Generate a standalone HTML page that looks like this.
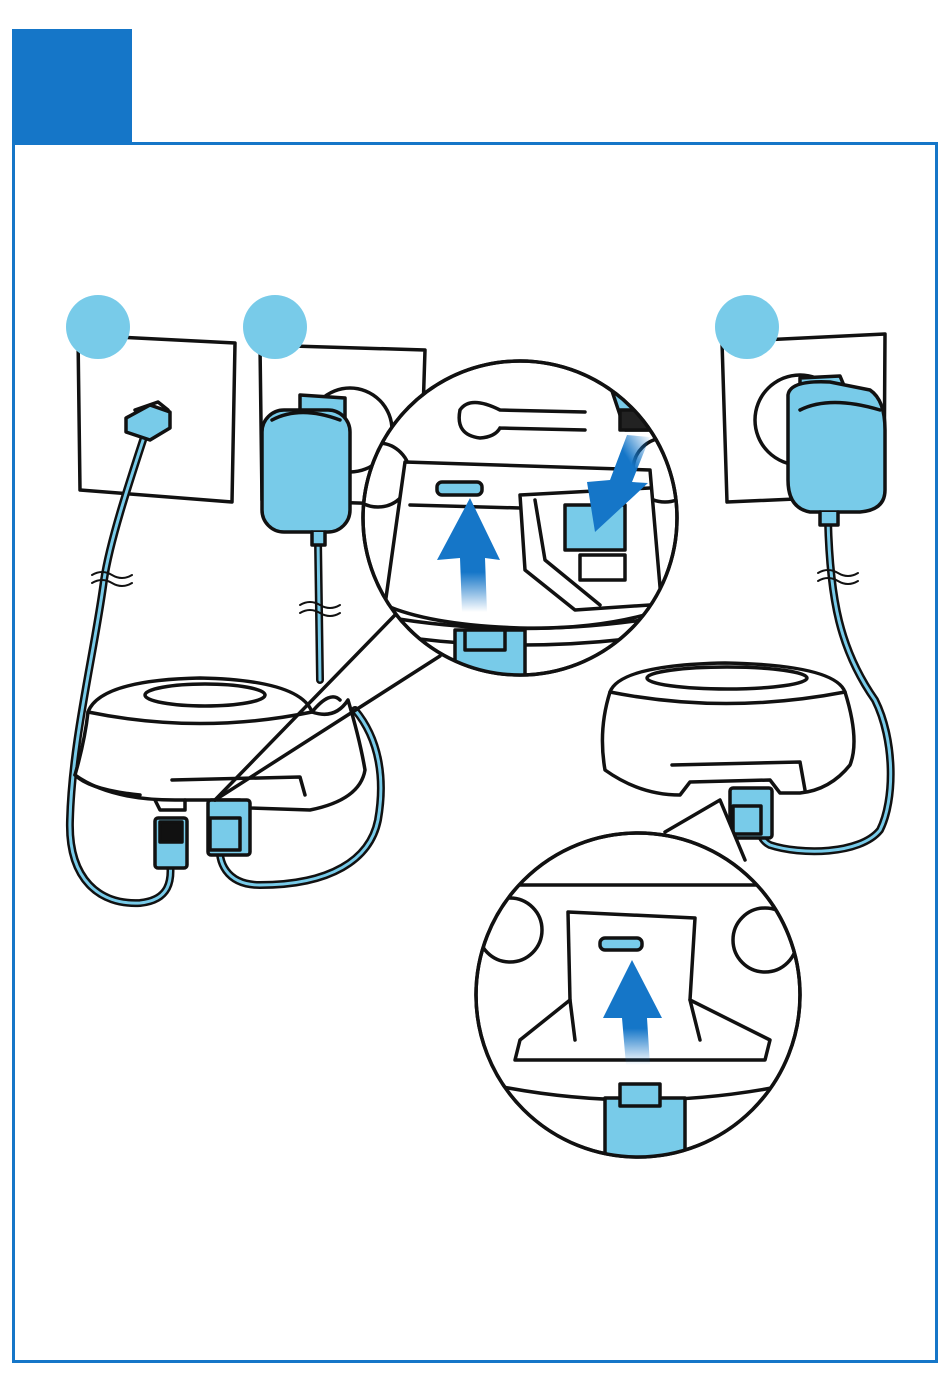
<!DOCTYPE html>
<html><head><meta charset="utf-8"><style>
html,body{margin:0;padding:0;background:#fff;}
svg{display:block}
</style></head><body>
<svg width="950" height="1392" viewBox="0 0 950 1392" xmlns="http://www.w3.org/2000/svg">
<defs>
<linearGradient id="fadeUp" x1="0" y1="1" x2="0" y2="0">
<stop offset="0" stop-color="#1576c8" stop-opacity="0"/><stop offset="0.35" stop-color="#1576c8"/><stop offset="1" stop-color="#1576c8"/></linearGradient>
<linearGradient id="fadeDown" x1="1" y1="0" x2="0" y2="1">
<stop offset="0" stop-color="#1576c8" stop-opacity="0"/><stop offset="0.3" stop-color="#1576c8"/><stop offset="1" stop-color="#1576c8"/></linearGradient>
<clipPath id="c1"><circle cx="520" cy="518" r="157"/></clipPath>
<clipPath id="c2"><circle cx="638" cy="995" r="162"/></clipPath>
</defs>
<rect width="950" height="1392" fill="#fff"/>
<rect x="12" y="29" width="120" height="115" fill="#1576c8"/>
<rect x="13.5" y="143.5" width="923" height="1218" fill="none" stroke="#1576c8" stroke-width="3"/>

<g stroke="#111" stroke-width="3.5" stroke-linejoin="round" stroke-linecap="round" fill="none">
<polygon points="78,335 235,343 232,502 80,490" fill="#fff"/>
<polygon points="260,345 425,350 420,505 262,500" fill="#fff"/>
<polygon points="722,342 885,334 884,495 727,502" fill="#fff"/>
<circle cx="350" cy="430" r="42" fill="#fff"/>
<circle cx="800" cy="420" r="45" fill="#fff"/>

<g stroke-width="8">
<path d="M148,425 C130,480 110,540 104,580 C95,650 72,740 70,820 C68,880 100,905 140,903 C170,900 172,880 170,862"/>
<path d="M318,540 L320,680"/>
<path d="M355,710 C380,740 385,780 378,820 C370,860 330,885 260,885 C225,885 218,860 220,845"/>
<path d="M828,520 C830,600 840,650 875,700 C895,740 895,800 880,830 C860,855 800,855 770,845 C760,840 758,830 760,820"/>
</g>
<g stroke="#78cbe9" stroke-width="3">
<path d="M148,425 C130,480 110,540 104,580 C95,650 72,740 70,820 C68,880 100,905 140,903 C170,900 172,880 170,862"/>
<path d="M318,540 L320,680"/>
<path d="M355,710 C380,740 385,780 378,820 C370,860 330,885 260,885 C225,885 218,860 220,845"/>
<path d="M828,520 C830,600 840,650 875,700 C895,740 895,800 880,830 C860,855 800,855 770,845 C760,840 758,830 760,820"/>
</g>
<g stroke-width="2"><path d="M92,575 q10,-6 20,0 q10,6 20,0"/><path d="M92,583 q10,-6 20,0 q10,6 20,0"/>
<path d="M300,605 q10,-6 20,0 q10,6 20,0"/><path d="M300,613 q10,-6 20,0 q10,6 20,0"/>
<path d="M818,573 q10,-6 20,0 q10,6 20,0"/><path d="M818,581 q10,-6 20,0 q10,6 20,0"/></g>

<path d="M126,418 L150,405 L170,412 L170,428 L150,440 L126,432 Z" fill="#78cbe9"/>
<path d="M135,410 L158,402 L168,410" />

<path d="M300,395 L345,398 L345,430 L300,430 Z" fill="#78cbe9"/>
<rect x="262" y="410" width="88" height="122" rx="22" fill="#78cbe9"/>
<path d="M272,420 Q300,405 340,420"/>
<path d="M312,532 L312,545 L325,545 L325,532" fill="#78cbe9"/>

<path d="M800,378 L840,376 L850,400 L800,410 Z" fill="#78cbe9"/>
<path d="M788,395 Q790,380 830,382 L870,390 Q885,400 885,430 L885,490 Q885,510 860,512 L810,512 Q788,508 788,480 Z" fill="#78cbe9"/>
<path d="M800,410 Q830,395 880,410"/>
<path d="M820,512 L820,525 L838,525 L838,512" fill="#78cbe9"/>

<path d="M88,712 Q100,680 200,678 Q300,680 312,712 Q335,720 348,700 Q360,740 365,770 Q360,800 310,810 L250,808 L240,800 L175,800 Q110,800 75,775 Q85,740 88,712 Z" fill="#fff"/>
<path d="M88,712 Q200,735 312,712 Q330,690 340,700"/>
<ellipse cx="205" cy="695" rx="60" ry="11"/>
<path d="M75,775 Q90,790 140,795"/>
<path d="M172,780 L300,777 L305,795"/>
<path d="M155,800 L160,810 L185,810 L185,800"/>
<rect x="155" y="818" width="32" height="50" rx="3" fill="#78cbe9"/>
<rect x="160" y="822" width="22" height="20" fill="#111"/>
<rect x="208" y="800" width="42" height="55" rx="3" fill="#78cbe9"/>
<rect x="210" y="818" width="30" height="32" fill="#78cbe9"/>

<path d="M610,692 Q620,665 725,663 Q835,665 845,692 Q860,740 850,765 Q830,790 800,793 L780,793 L770,780 L690,782 L680,795 Q640,795 605,770 Q598,730 610,692 Z" fill="#fff"/>
<path d="M610,692 Q725,715 845,692"/>
<ellipse cx="727" cy="678" rx="80" ry="11"/>
<path d="M672,765 L800,762 L805,790"/>
<rect x="730" y="788" width="42" height="50" rx="3" fill="#78cbe9"/>
<rect x="733" y="806" width="28" height="28" fill="#78cbe9"/>

<path d="M215,800 L395,615"/>
<path d="M215,800 L440,656"/>
<path d="M665,832 L720,800 L745,860" fill="#fff"/>

<circle cx="520" cy="518" r="157" fill="#fff"/>
<g clip-path="url(#c1)">
<circle cx="378" cy="475" r="32"/><circle cx="665" cy="470" r="32"/>
<path d="M405,462 L650,470 L662,610 Q600,630 520,628 Q430,625 385,605 Z" fill="#fff"/>
<path d="M410,505 L520,508"/>
<path d="M520,495 L650,488 M520,495 L525,570 L575,610 L650,605"/>
<path d="M535,500 L545,560 L600,605"/>
<path d="M360,630 Q520,660 690,630"/>
<path d="M360,612 Q520,645 690,612"/>
<path d="M460,410 Q470,395 500,410 L585,412 M500,428 L585,430 M460,410 Q455,435 480,438 Q495,437 500,428"/>
<rect x="437" y="482" width="45" height="13" rx="5" fill="#78cbe9"/>
<rect x="565" y="505" width="60" height="45" fill="#78cbe9"/>
<rect x="580" y="555" width="45" height="25" fill="#fff"/>
<path d="M610,385 L660,380 L680,430 L625,430 Z" fill="#78cbe9"/>
<rect x="620" y="410" width="50" height="20" fill="#222"/>
<rect x="455" y="630" width="70" height="55" fill="#78cbe9"/>
<rect x="465" y="630" width="40" height="20" fill="#78cbe9"/>
</g>
<circle cx="520" cy="518" r="157"/>

<circle cx="638" cy="995" r="162" fill="#fff"/>
<g clip-path="url(#c2)">
<path d="M470,885 L810,885" />
<circle cx="510" cy="930" r="32"/><circle cx="765" cy="940" r="32"/>
<path d="M568,912 L695,918 L690,1000 L770,1040 L765,1060 L515,1060 L520,1040 L570,1000 Z" fill="#fff"/>
<path d="M570,1000 L575,1040 M690,1000 L700,1040"/>
<path d="M470,1080 Q640,1120 810,1080"/>
<rect x="600" y="938" width="42" height="12" rx="5" fill="#78cbe9"/>
<rect x="605" y="1098" width="80" height="70" fill="#78cbe9"/>
<rect x="620" y="1084" width="40" height="22" fill="#78cbe9"/>
</g>
<circle cx="638" cy="995" r="162"/>
</g>

<polygon points="462,612 460,558 437,560 470,498 500,560 485,558 487,612" fill="url(#fadeUp)"/>
<polygon points="627,435 650,437 632,482 648,483 595,532 587,482 610,480" fill="url(#fadeDown)"/>
<polygon points="626,1065 622,1018 603,1018 632,960 662,1018 647,1018 650,1065" fill="url(#fadeUp)"/>

<circle cx="98" cy="327" r="32" fill="#78cbe9"/>
<circle cx="275" cy="327" r="32" fill="#78cbe9"/>
<circle cx="747" cy="327" r="32" fill="#78cbe9"/>
</svg>
</body></html>
